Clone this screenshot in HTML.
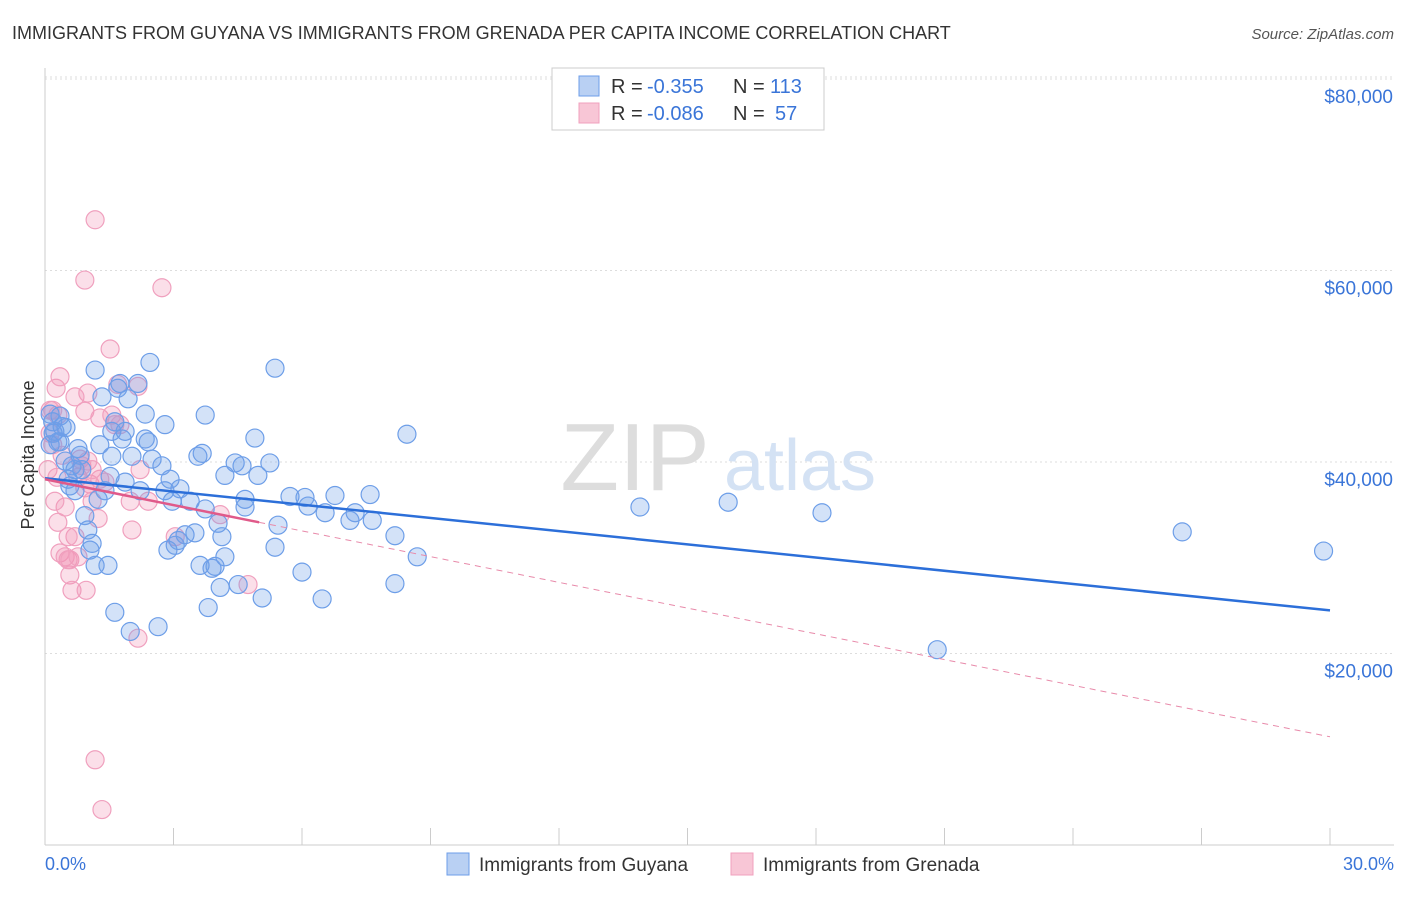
<!DOCTYPE html>
<html><head><meta charset="utf-8"><style>
body{margin:0;background:#fff;font-family:"Liberation Sans",sans-serif;}
svg text{font-family:"Liberation Sans",sans-serif;}
</style></head><body>
<svg width="1406" height="892" xmlns="http://www.w3.org/2000/svg">
<text x="12" y="39" font-size="18" fill="#333">IMMIGRANTS FROM GUYANA VS IMMIGRANTS FROM GRENADA PER CAPITA INCOME CORRELATION CHART</text>
<text x="1394" y="39" font-size="15" fill="#555" font-style="italic" text-anchor="end">Source: ZipAtlas.com</text>
<g id="grid"></g>
<text x="635" y="490" font-size="96" fill="#ddd" font-family="Liberation Serif" text-anchor="middle">ZIP</text>
<text x="800" y="490" font-size="72" fill="#d4e2f4" text-anchor="middle">atlas</text>
<g id="pts"></g>
<g id="lines"></g>
<text x="34" y="455" font-size="18" fill="#333" text-anchor="middle" transform="rotate(-90 34 455)">Per Capita Income</text>
<text x="45" y="870" font-size="18" fill="#3a75d8">0.0%</text>
<text x="1394" y="870" font-size="18" fill="#3a75d8" text-anchor="end">30.0%</text>
<g>
<rect x="552" y="68" width="272" height="62" fill="#fff" stroke="#ccc"/>
<rect x="579" y="76" width="20" height="20" fill="#b9d0f3" stroke="#6d9ee8"/>
<rect x="579" y="103" width="20" height="20" fill="#f8c6d6" stroke="#f0a0be"/>
<text x="611" y="93" font-size="20" fill="#333">R =</text><text x="647" y="93" font-size="20" fill="#3a75d8">-0.355</text>
<text x="733" y="93" font-size="20" fill="#333">N =</text><text x="770" y="93" font-size="20" fill="#3a75d8">113</text>
<text x="611" y="120" font-size="20" fill="#333">R =</text><text x="647" y="120" font-size="20" fill="#3a75d8">-0.086</text>
<text x="733" y="120" font-size="20" fill="#333">N =</text><text x="775" y="120" font-size="20" fill="#3a75d8">57</text>
</g>
<g>
<rect x="447" y="853" width="22" height="22" fill="#b9d0f3" stroke="#6d9ee8"/>
<text x="479" y="871" font-size="19" fill="#333">Immigrants from Guyana</text>
<rect x="731" y="853" width="22" height="22" fill="#f8c6d6" stroke="#f0a0be"/>
<text x="763" y="871" font-size="19" fill="#333">Immigrants from Grenada</text>
</g>
</svg>
<script>
const yTicks=[20,40,60,80];
const yTickLabels=["$20,000","$40,000","$60,000","$80,000"];
const xTicks=[0,3,6,9,12,15,18,21,24,27,30];
const guyanaX=[0.12,0.18,0.23,0.30,0.19,0.35,0.40,0.47,0.54,0.58,0.63,0.70,0.77,0.82,0.86,0.93,1.00,1.05,1.10,1.17,1.17,1.24,1.28,1.33,1.40,1.47,1.52,1.56,1.63,1.63,1.70,1.75,1.80,1.87,1.87,1.94,1.99,2.03,2.17,2.22,2.34,2.34,2.41,2.45,2.50,2.64,2.73,2.80,2.87,2.92,2.97,3.04,3.11,3.15,3.27,3.39,3.50,3.57,3.62,3.67,3.74,3.74,3.81,3.90,3.97,4.04,4.09,4.13,4.20,4.20,4.44,4.51,4.60,4.67,4.67,4.90,4.97,5.07,5.25,5.37,5.44,5.37,5.72,6.00,6.07,6.14,6.47,6.54,6.77,7.12,7.24,7.59,7.64,8.17,8.17,8.45,8.69,13.89,15.95,18.14,20.83,26.55,29.85,0.35,0.70,1.56,2.80,0.12,0.49];
const guyanaY=[45,44.2,43.2,42.1,43,44.8,43.7,40.1,38.2,37.5,39.6,37,41.4,40.7,39.2,34.4,32.9,30.8,31.5,29.2,49.6,36.1,41.8,46.8,37,29.2,38.5,40.6,44.2,24.3,47.7,48.2,42.4,37.9,43.2,46.6,22.3,40.6,48.2,37,45,42.4,42.1,50.4,40.3,22.8,39.6,37,30.8,38.2,35.9,31.3,31.8,37.2,32.4,35.9,32.6,40.6,29.2,40.9,44.9,35.1,24.8,28.9,29.1,33.6,26.9,32.2,30.1,38.6,39.9,27.2,39.6,36.1,35.3,42.5,38.6,25.8,39.9,49.8,33.4,31.1,36.4,28.5,36.3,35.4,25.7,34.7,36.5,33.9,34.7,36.6,33.9,32.3,27.3,42.9,30.1,35.3,35.8,34.7,20.4,32.7,30.7,42.1,39.2,43.2,43.9,41.8,43.6];
const grenadaX=[0.12,0.18,0.26,0.30,0.18,0.30,0.35,0.47,0.54,0.58,0.63,0.70,0.77,0.82,0.86,0.93,0.96,1.00,1.05,1.10,1.17,1.17,1.24,1.28,1.33,0.93,1.52,1.56,1.63,1.70,2.03,2.17,2.22,2.41,2.73,3.04,4.09,4.74,2.17,0.23,0.40,0.07,0.12,0.47,0.58,0.70,1.00,1.28,1.75,1.99,0.77,0.54,1.10,0.35,0.28,1.40,0.93];
const grenadaY=[43,41.8,47.7,44.9,45.4,33.7,30.5,35.3,29.8,28.2,26.6,32.2,38.4,40.3,39.6,45.3,26.6,47.2,37.7,35.9,65.3,8.9,34.1,44.6,3.7,59,51.8,44.9,43.9,48.1,32.9,47.9,39.2,35.9,58.2,32.2,34.5,27.2,21.6,35.9,40.7,39.2,45.4,30.1,29.8,46.8,40.1,38.2,43.9,35.9,30.1,32.2,39.2,48.9,38.4,37.9,37.3];
const NS="http://www.w3.org/2000/svg";
const X=v=>45+v/30*1285, Y=v=>845-v*9.575;
const grid=document.getElementById('grid');
function mk(tag,attrs,parent){const e=document.createElementNS(NS,tag);for(const k in attrs)e.setAttribute(k,attrs[k]);parent.appendChild(e);return e;}
yTicks.forEach((t,i)=>{
 const l=mk('line',{x1:45,x2:1394,y1:Y(t),y2:Y(t),stroke:'#ddd','stroke-dasharray':'2,3'},grid);
 
 
 const tx=mk('text',{x:1393,y:Y(t)+24,'font-size':19,fill:'#3a75d8','text-anchor':'end'},grid);
 tx.textContent=yTickLabels[i];
 
 
});
const topLine=mk('line',{x1:45,x2:1394,y1:77,y2:77,stroke:'#ddd','stroke-dasharray':'2,3'},grid);


const ax=mk('line',{x1:45,x2:1394,y1:845,y2:845,stroke:'#ccc'},grid);


const ay=mk('line',{x1:45,x2:45,y1:68,y2:845,stroke:'#ccc'},grid);


xTicks.forEach(t=>{
 const l=mk('line',{x1:X(t),x2:X(t),y1:828,y2:845,stroke:'#ccc'},grid);
 
 
});
const pts=document.getElementById('pts');
grenadaX.forEach((x,i)=>{
 const c=mk('circle',{cx:X(x),cy:Y(grenadaY[i]),r:9,fill:'rgba(242,150,182,0.3)',stroke:'#f0a0be','stroke-width':1.2},pts);
 
 
});
guyanaX.forEach((x,i)=>{
 const c=mk('circle',{cx:X(x),cy:Y(guyanaY[i]),r:9,fill:'rgba(110,158,232,0.3)',stroke:'#6d9ee8','stroke-width':1.2},pts);
 
 
});
const lines=document.getElementById('lines');
const bl=mk('line',{x1:X(0),y1:Y(38.3),x2:X(30),y2:Y(24.5),stroke:'#2c6fd9','stroke-width':2.5},lines);


const pd=mk('line',{x1:X(5),y1:Y(33.7),x2:X(30),y2:Y(11.3),stroke:'#e88aaa','stroke-width':1,'stroke-dasharray':'6,5'},lines);


const ps=mk('line',{x1:X(0),y1:Y(38.2),x2:X(5),y2:Y(33.7),stroke:'#e05a8a','stroke-width':2.5},lines);


</script>
</body></html>
